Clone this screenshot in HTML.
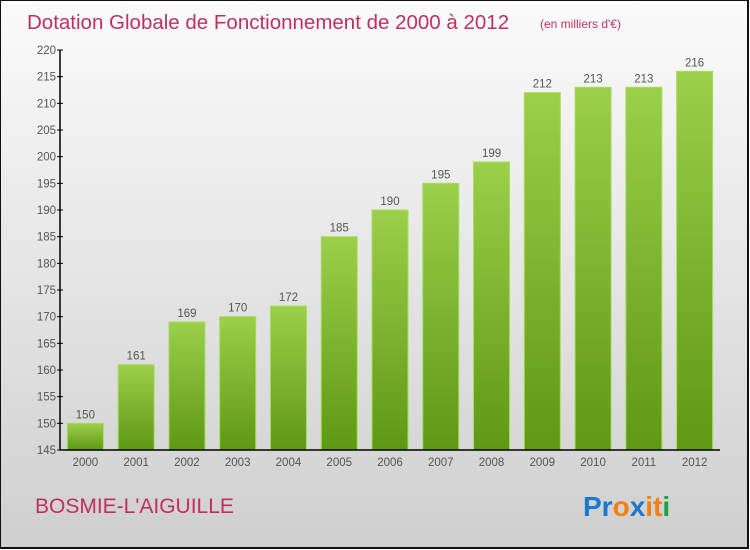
<!DOCTYPE html>
<html><head><meta charset="utf-8"><style>
body{margin:0;width:750px;height:550px;overflow:hidden;font-family:"Liberation Sans",sans-serif}
#wrap{position:absolute;left:0;top:0;width:746px;height:546px;border:2px solid #111;border-width:1px 2px 2px 1px;background:linear-gradient(#fbfbfb,#cfcfcf)}
</style></head><body>
<div id="wrap">
<svg width="750" height="550" style="position:absolute;left:-1px;top:-1px">
<defs><linearGradient id="g" x1="0" y1="0" x2="0" y2="1"><stop offset="0" stop-color="#9ccf4a"/><stop offset="1" stop-color="#5e9814"/></linearGradient></defs>
<text x="27" y="29" font-size="20.5" fill="#c0305f">Dotation Globale de Fonctionnement de 2000 à 2012</text>
<text x="540" y="28" font-size="12" fill="#c0305f">(en milliers d'€)</text>
<g id="plot"></g>
<text x="35" y="513" font-size="21" fill="#c0305f">BOSMIE-L'AIGUILLE</text>
<g font-size="28" font-weight="bold" font-family="Liberation Sans,sans-serif">
<text x="583" y="516" fill="#1a78d0">Pr<tspan fill="#f08010">o</tspan><tspan fill="#1a78d0">x</tspan><tspan fill="#f08010">i</tspan><tspan fill="#f08010">t</tspan><tspan fill="#20a040">i</tspan></text></g>
</svg></div>
<script>
const years=["2000","2001","2002","2003","2004","2005","2006","2007","2008","2009","2010","2011","2012"];
const values=[150,161,169,170,172,185,190,195,199,212,213,213,216];
const yTicks=[145,150,155,160,165,170,175,180,185,190,195,200,205,210,215,220];
const NS="http://www.w3.org/2000/svg",g=document.getElementById('plot');
const x0=60,x1=720,yb=450,yt=50,ymin=145,ymax=220;
const y=v=>yb-(v-ymin)/(ymax-ymin)*(yb-yt);
const band=(x1-x0)/years.length,xc=i=>x0+band*(i+0.5);
function el(t,a,txt){const e=document.createElementNS(NS,t);for(const k in a)e.setAttribute(k,a[k]);if(txt!=null)e.textContent=txt;g.appendChild(e);return e;}
values.forEach((v,i)=>{
 const b=el('rect',{x:xc(i)-18,y:y(v),width:36,height:yb-y(v),fill:'url(#g)',stroke:'#a8dc60','stroke-width':1});
 
 
 const t=el('text',{x:xc(i),y:y(v)-5,'text-anchor':'middle','font-size':11.5,fill:'#555'},v);
 
 
 const l=el('text',{x:xc(i),y:yb+16,'text-anchor':'middle','font-size':11.5,fill:'#555'},years[i]);
 
 
});
yTicks.forEach(v=>{
 el('line',{x1:x0-3,x2:x0+3,y1:y(v),y2:y(v),stroke:'#000'});
 const t=el('text',{x:x0-4,y:y(v)+4,'text-anchor':'end','font-size':11.5,fill:'#555'},v);
 
 
});
const ya=el('line',{x1:x0,x2:x0,y1:yt,y2:yb,stroke:'#000','stroke-width':1.5});


const xa=el('line',{x1:x0,x2:x1,y1:yb,y2:yb,stroke:'#000','stroke-width':1.5});


</script>
</body></html>
